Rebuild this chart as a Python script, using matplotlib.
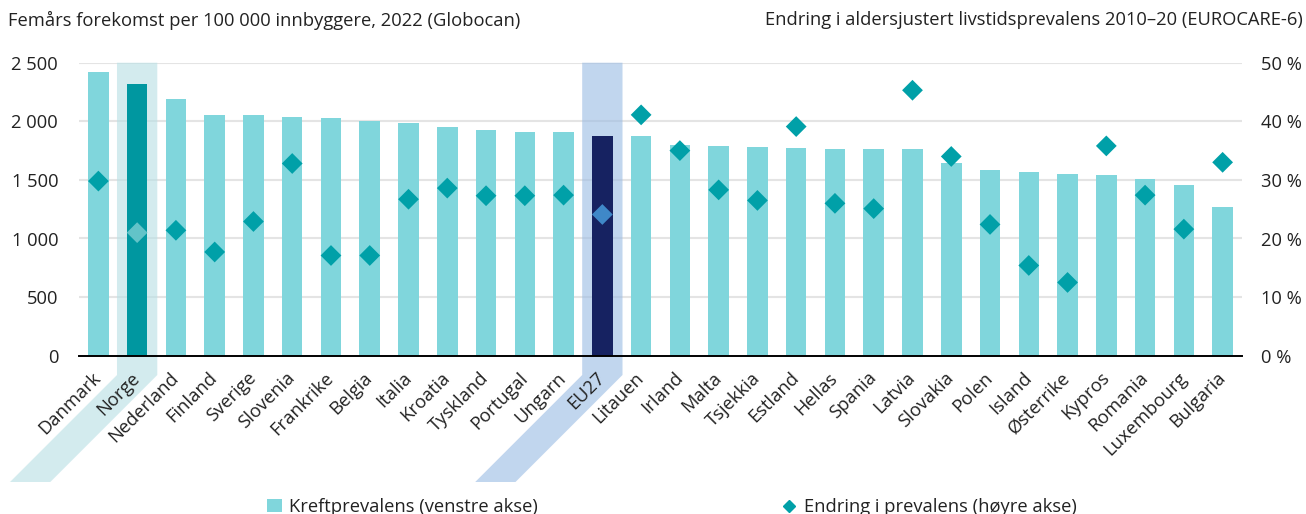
import matplotlib
matplotlib.use("Agg")
import matplotlib.pyplot as plt
from matplotlib.patches import Polygon, Patch
from matplotlib.lines import Line2D
from matplotlib.ticker import FuncFormatter
from matplotlib.transforms import IdentityTransform

plt.rcParams["font.family"] = ["Open Sans", "DejaVu Sans"]

countries = ["Danmark", "Norge", "Nederland", "Finland", "Sverige", "Slovenia",
             "Frankrike", "Belgia", "Italia", "Kroatia", "Tyskland", "Portugal",
             "Ungarn", "EU27", "Litauen", "Irland", "Malta", "Tsjekkia", "Estland",
             "Hellas", "Spania", "Latvia", "Slovakia", "Polen", "Island",
             "Østerrike", "Kypros", "Romania", "Luxembourg", "Bulgaria"]

# Five-year prevalence per 100 000 (left axis)
prevalence = [2420, 2320, 2190, 2055, 2050, 2035, 2025, 2005, 1985, 1950,
              1925, 1910, 1905, 1875, 1872, 1795, 1792, 1778, 1775, 1765,
              1761, 1760, 1640, 1582, 1565, 1548, 1540, 1508, 1455, 1265]

# Change in age-standardised lifetime prevalence 2010-20, % (right axis)
change = [29.8, 21.0, 21.4, 17.7, 22.9, 32.8, 17.1, 17.1, 26.7, 28.6,
          27.3, 27.3, 27.4, 24.1, 41.1, 35.0, 28.3, 26.5, 39.1, 26.0,
          25.1, 45.3, 34.0, 22.4, 15.4, 12.5, 35.8, 27.4, 21.6, 33.0]

left_ticks = [0, 500, 1000, 1500, 2000, 2500]
right_ticks = [0, 10, 20, 30, 40, 50]

# bar colour, diamond colour, band colour
highlight = {"Norge": ("#0097A0", "#62C3C8", (183/255, 223/255, 228/255, 0.6)),
             "EU27": ("#162261", "#3F88C8", (153/255, 187/255, 227/255, 0.6))}

BAR = "#80D6DC"
DIAMOND = "#00A0A8"
TEXT = "#222222"
FS = 13.2
W, H = 1306, 514

fig = plt.figure(figsize=(W / 100, H / 100), dpi=100)
ax = fig.add_axes([79 / W, 1 - 355.7 / H, (1242 - 79) / W, (355.7 - 62.7) / H])
ax.patch.set_visible(False)

x = list(range(len(countries)))
bar_colors = [highlight[c][0] if c in highlight else BAR for c in countries]
ax.bar(x, prevalence, width=0.53, color=bar_colors, zorder=2)

ax.set_xlim(-0.5, len(countries) - 0.5)
ax.set_ylim(left_ticks[0], left_ticks[-1])
ax.set_yticks(left_ticks)
ax.yaxis.set_major_formatter(FuncFormatter(lambda v, p: f"{int(v):,}".replace(",", " ")))
for t in left_ticks[1:]:
    ax.axhline(t, color="#E4E4E4", linewidth=1.5, zorder=0.2)
for s in ["left", "right", "top"]:
    ax.spines[s].set_visible(False)
ax.spines["bottom"].set_color("black")
ax.spines["bottom"].set_linewidth(1.4)
ax.spines["bottom"].set_zorder(3)
ax.xaxis.set_zorder(0.6)
ax.yaxis.set_zorder(0.6)
ax.tick_params(axis="both", length=0, labelsize=FS, colors=TEXT)
ax.tick_params(axis="y", pad=15)
ax.set_xticks(x)
ax.set_xticklabels(countries, rotation=45, ha="right", va="center",
                   rotation_mode="anchor")
ax.tick_params(axis="x", pad=14)

ax2 = ax.twinx()
ax2.set_ylim(right_ticks[0], right_ticks[-1])
ax2.set_yticks(right_ticks)
ax2.yaxis.set_major_formatter(FuncFormatter(lambda v, p: f"{int(v)} %"))
for s in ax2.spines.values():
    s.set_visible(False)
ax2.tick_params(axis="y", length=0, labelsize=FS, colors=TEXT, pad=14)
dia_colors = [highlight[c][1] if c in highlight else DIAMOND for c in countries]
ax2.scatter(x, change, marker="D", s=112, c=dia_colors, zorder=4, linewidths=0)

# Highlight bands running down along the slanted labels (pixel coordinates)
fig.canvas.draw()
top_y = H - 62.7
knee_y = H - 375
bot_y = H - 482
for name, (_, _, band) in highlight.items():
    i = countries.index(name)
    xl = ax.transData.transform((i - 0.52, 0))[0]
    xr = ax.transData.transform((i + 0.52, 0))[0]
    d = knee_y - bot_y
    pts = [(xl, top_y), (xr, top_y), (xr, knee_y), (xr - d, bot_y),
           (xl - d, bot_y), (xl, knee_y)]
    poly = Polygon(pts, closed=True, facecolor=band, edgecolor="none",
                   transform=IdentityTransform(), zorder=0.4, clip_on=False)
    ax.add_patch(poly)

fig.text(8 / W, 1 - 20 / H, "Femårs forekomst per 100 000 innbyggere, 2022 (Globocan)",
         ha="left", va="center", fontsize=FS, color=TEXT)
fig.text(1303 / W, 1 - 20 / H,
         "Endring i aldersjustert livstidsprevalens 2010–20 (EUROCARE-6)",
         ha="right", va="center", fontsize=FS, color=TEXT)

handles = [Patch(facecolor=BAR, edgecolor="none"),
           Line2D([], [], marker="D", linestyle="none", color=DIAMOND, markersize=6)]
fig.legend(handles, ["Kreftprevalens (venstre akse)", "Endring i prevalens (høyre akse)"],
           loc="center", bbox_to_anchor=(672 / W, 7 / H), ncol=2, frameon=False,
           fontsize=FS, columnspacing=13.3, handlelength=0.8, handletextpad=0.4,
           labelcolor=TEXT)

fig.savefig("out.png", dpi=100)
